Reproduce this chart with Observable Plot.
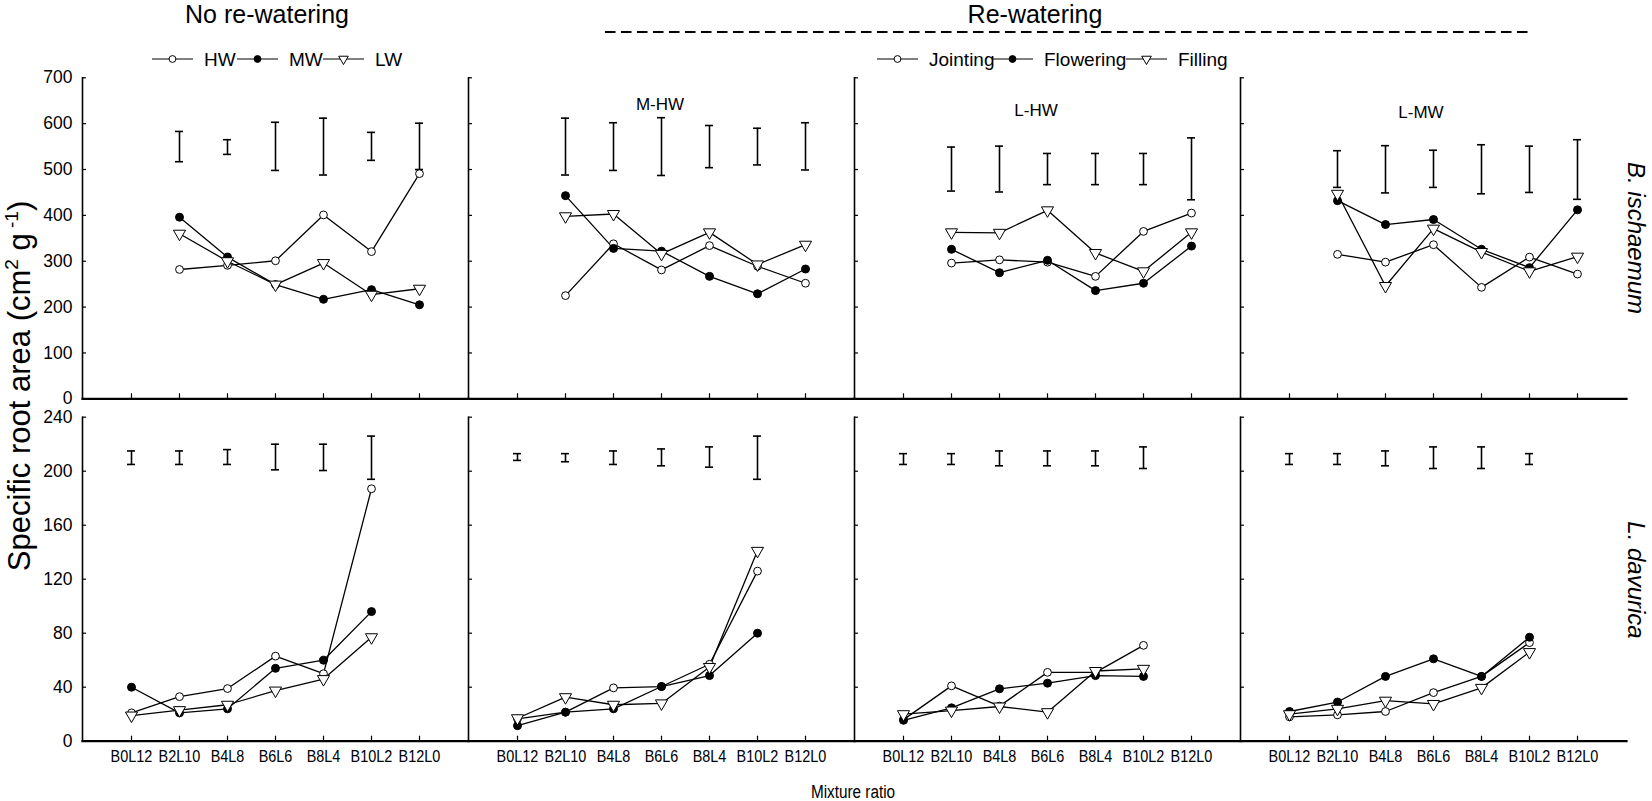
<!DOCTYPE html>
<html><head><meta charset="utf-8">
<script src="https://cdn.jsdelivr.net/npm/d3@7"></script>
<script src="https://cdn.jsdelivr.net/npm/@observablehq/plot@0.6"></script>
<style>
body{margin:0;background:#fff;}
#wrap{position:relative;width:1652px;height:801px;font-family:"Liberation Sans",Arial,sans-serif;overflow:hidden;background:#fff;}
#row1{position:absolute;left:0;top:60px;}
#row2{position:absolute;left:0;top:405px;}
#ann{position:absolute;left:0;top:0;pointer-events:none;}
</style></head><body>
<div id="wrap"><div id="row2"></div><div id="row1"></div><svg id="ann" width="1652" height="801"></svg></div>
<script>
// ---------- data ----------
const ratios = ["B0L12","B2L10","B4L8","B6L6","B8L4","B10L2","B12L0"];
const panels = ["No re-watering","M-HW","L-HW","L-MW"];
const legendNo = ["HW","MW","LW"];
const legendRe = ["Jointing","Flowering","Filling"];
const biRatios = ratios.slice(1);      // B. ischaemum present
const ldRatios = ratios.slice(0, 6);   // L. davurica present

// B. ischaemum (top row)
const biNoHW  = [282, 291, 301, 401, 321, 491];
const biNoMW  = [396, 309, 249, 217, 238, 205];
const biNoLW  = [360, 300, 249, 296, 227, 240];
const biMHW_J = [225, 338, 281, 334, 289, 252];
const biMHW_F = [443, 328, 322, 267, 229, 283];
const biMHW_Fi= [398, 403, 316, 363, 293, 336];
const biLHW_J = [296, 303, 298, 267, 365, 405];
const biLHW_F = [326, 275, 302, 236, 252, 333];
const biLHW_Fi= [363, 362, 411, 318, 278, 363];
const biLMW_J = [315, 298, 336, 243, 309, 272];
const biLMW_F = [432, 380, 391, 326, 286, 412];
const biLMW_Fi= [447, 246, 371, 320, 278, 310];
const biErrNoLo  = [517, 533, 498, 488, 520, 500];
const biErrNoHi  = [583, 565, 603, 612, 581, 601];
const biErrMHWLo = [488, 498, 487, 504, 510, 499];
const biErrMHWHi = [612, 602, 613, 596, 590, 602];
const biErrLHWLo = [453, 451, 467, 467, 467, 434];
const biErrLHWHi = [549, 551, 535, 535, 535, 569];
const biErrLMWLo = [461, 449, 461, 447, 450, 435];
const biErrLMWHi = [541, 552, 542, 554, 551, 565];

// L. davurica (bottom row)
const ldNoHW  = [21, 33, 39, 63, 50, 187];
const ldNoMW  = [40, 21, 24, 54, 60, 96];
const ldNoLW  = [19, 23, 27, 37.5, 46, 77];
const ldMHW_J = [16.5, 21.5, 39.5, 40.5, 57, 126];
const ldMHW_F = [11.5, 21.5, 24, 40.5, 48.6, 80];
const ldMHW_Fi= [17, 32.6, 27, 28, 55, 141];
const ldLHW_J = [16, 41, 26, 51, 51, 71];
const ldLHW_F = [15.5, 24.7, 38.8, 43, 48.6, 48];
const ldLHW_Fi= [20, 22.7, 25.7, 21.5, 52, 53.6];
const ldLMW_J = [18, 19.5, 22, 36, 48, 73];
const ldLMW_F = [22, 29, 48, 61, 48, 77];
const ldLMW_Fi= [20, 24, 30, 27.6, 39.5, 66];
const ldErrNoLo  = [205, 205, 205, 201, 200.5, 194];
const ldErrNoHi  = [215, 215, 216, 220, 220, 226];
const ldErrMHWLo = [208, 207, 205, 204, 203, 194];
const ldErrMHWHi = [213, 213, 215, 216.5, 218, 226];
const ldErrLHWLo = [205, 205, 204, 204, 204, 202];
const ldErrLHWHi = [213, 213, 215, 215, 215, 218];
const ldErrLMWLo = [205, 205, 204, 202, 202, 205];
const ldErrLMWHi = [213, 213, 215, 218, 218, 213];

const biTicks = [0,100,200,300,400,500,600,700];
const ldTicks = [0,40,80,120,160,200,240];

// ---------- build tables ----------
function rows(panel, rs, series) {
  return series.flatMap((arr, s) => arr.map((v, i) => ({panel, ratio: rs[i], value: v, s})));
}
function errRows(panel, rs, lo, hi) {
  return lo.map((l, i) => ({panel, ratio: rs[i], lo: l, hi: hi[i]}));
}
const biData = [
  ...rows(panels[0], biRatios, [biNoHW, biNoMW, biNoLW]),
  ...rows(panels[1], biRatios, [biMHW_J, biMHW_F, biMHW_Fi]),
  ...rows(panels[2], biRatios, [biLHW_J, biLHW_F, biLHW_Fi]),
  ...rows(panels[3], biRatios, [biLMW_J, biLMW_F, biLMW_Fi])
];
const biErr = [
  ...errRows(panels[0], biRatios, biErrNoLo, biErrNoHi),
  ...errRows(panels[1], biRatios, biErrMHWLo, biErrMHWHi),
  ...errRows(panels[2], biRatios, biErrLHWLo, biErrLHWHi),
  ...errRows(panels[3], biRatios, biErrLMWLo, biErrLMWHi)
];
const ldData = [
  ...rows(panels[0], ldRatios, [ldNoHW, ldNoMW, ldNoLW]),
  ...rows(panels[1], ldRatios, [ldMHW_J, ldMHW_F, ldMHW_Fi]),
  ...rows(panels[2], ldRatios, [ldLHW_J, ldLHW_F, ldLHW_Fi]),
  ...rows(panels[3], ldRatios, [ldLMW_J, ldLMW_F, ldLMW_Fi])
];
const ldErr = [
  ...errRows(panels[0], ldRatios, ldErrNoLo, ldErrNoHi),
  ...errRows(panels[1], ldRatios, ldErrMHWLo, ldErrMHWHi),
  ...errRows(panels[2], ldRatios, ldErrLHWLo, ldErrLHWHi),
  ...errRows(panels[3], ldRatios, ldErrLMWLo, ldErrLMWHi)
];

const sans = "'Liberation Sans',Arial,sans-serif";

function rowPlot({data, err, yMax, ticks, height, mt, mb, xLabels}) {
  const P = {fx: "panel", x: "ratio", y: "value"};
  return Plot.plot({
    width: 1652, height, marginLeft: 82, marginRight: 26, marginTop: mt, marginBottom: mb,
    style: {fontFamily: sans, fontSize: "17px", color: "black", background: "transparent", overflow: "visible"},
    fx: {domain: panels, padding: 0, axis: null},
    x: {type: "point", domain: ratios, padding: 1, axis: null},
    y: {domain: [0, yMax], axis: null},
    marks: [
      Plot.frame({anchor: "left", stroke: "black", strokeWidth: 1.6}),
      Plot.frame({anchor: "bottom", stroke: "black", strokeWidth: 2.2}),
      Plot.axisY(ticks, {tickSize: 0, tickPadding: 10, fontSize: 17.5, label: null}),
      Plot.axisY(ticks, {facetAnchor: null, tickSize: -4, tickFormat: () => "", strokeWidth: 1.2, label: null}),
      Plot.axisX({facetAnchor: null, tickSize: -5, tickFormat: () => "", strokeWidth: 1.2, label: null}),
      xLabels ? Plot.axisX({facetAnchor: null, tickSize: 0, tickPadding: 9, fontSize: 17, label: null}) : null,
      Plot.ruleX(err, {fx: "panel", x: "ratio", y1: "lo", y2: "hi", stroke: "black", strokeWidth: 1.6}),
      Plot.ruleY(err, {fx: "panel", x1: "ratio", x2: "ratio", y: "lo", insetLeft: -4, insetRight: -4, stroke: "black", strokeWidth: 1.6}),
      Plot.ruleY(err, {fx: "panel", x1: "ratio", x2: "ratio", y: "hi", insetLeft: -4, insetRight: -4, stroke: "black", strokeWidth: 1.6}),
      Plot.line(data, {...P, z: "s", stroke: "black", strokeWidth: 1.3}),
      Plot.dot(data.filter(d => d.s === 0), {...P, r: 3.9, fill: "white", stroke: "black", strokeWidth: 1}),
      Plot.dot(data.filter(d => d.s === 1), {...P, r: 4, fill: "black", stroke: "black", strokeWidth: 1}),
      Plot.dot(data.filter(d => d.s === 2), {...P, symbol: "triangle", rotate: 180, r: 4.5, fill: "white", stroke: "black", strokeWidth: 1})
    ]
  });
}

// condense a text element horizontally (narrow face like the original)
function condense(el, k) {
  const w = el.getComputedTextLength();
  if (w > 0) { el.setAttribute("textLength", (w * k).toFixed(1)); el.setAttribute("lengthAdjust", "spacingAndGlyphs"); }
}

const p1 = rowPlot({data: biData, err: biErr, yMax: 700, ticks: biTicks, height: 362, mt: 17.3, mb: 23.7, xLabels: false});
const p2 = rowPlot({data: ldData, err: ldErr, yMax: 240, ticks: ldTicks, height: 396, mt: 11.7, mb: 60.3, xLabels: true});
document.getElementById("row1").append(p1);
document.getElementById("row2").append(p2);
d3.select(p2).selectAll('g[aria-label="x-axis tick label"] text').each(function() { condense(this, 0.85); });

// ---------- annotations ----------
const ann = d3.select("#ann").style("font-family", sans);
ann.append("text").attr("x", 267).attr("y", 23).attr("text-anchor", "middle").attr("font-size", 25).text(panels[0]);
ann.append("text").attr("x", 1035).attr("y", 23).attr("text-anchor", "middle").attr("font-size", 25).text("Re-watering");
ann.append("line").attr("x1", 605).attr("x2", 1531).attr("y1", 32).attr("y2", 32)
  .attr("stroke", "black").attr("stroke-width", 2).attr("stroke-dasharray", "10.5,5.5");

function legendItem(x0, label, s) {
  const y = 59;
  const g = ann.append("g");
  g.append("line").attr("x1", x0).attr("x2", x0 + 41).attr("y1", y).attr("y2", y).attr("stroke", "black").attr("stroke-width", 1.2);
  const cx = x0 + 20.5;
  if (s === 2) {
    g.append("path").attr("d", d3.symbol(d3.symbolTriangle, 40)()).attr("transform", `translate(${cx},${y}) rotate(180)`)
      .attr("fill", "white").attr("stroke", "black");
  } else {
    g.append("circle").attr("cx", cx).attr("cy", y).attr("r", 3.4).attr("fill", s === 1 ? "black" : "white").attr("stroke", "black");
  }
  g.append("text").attr("x", x0 + 52).attr("y", y + 7).attr("font-size", 19).text(label);
}
legendItem(152, legendNo[0], 0);
legendItem(237, legendNo[1], 1);
legendItem(323, legendNo[2], 2);
legendItem(877, legendRe[0], 0);
legendItem(992, legendRe[1], 1);
legendItem(1126, legendRe[2], 2);

ann.append("text").attr("x", 660).attr("y", 110).attr("text-anchor", "middle").attr("font-size", 17).text(panels[1]);
ann.append("text").attr("x", 1036).attr("y", 116).attr("text-anchor", "middle").attr("font-size", 17).text(panels[2]);
ann.append("text").attr("x", 1421).attr("y", 118).attr("text-anchor", "middle").attr("font-size", 17).text(panels[3]);

ann.append("text").attr("transform", "translate(1628,238) rotate(90)").attr("text-anchor", "middle")
  .attr("font-size", 24).attr("font-style", "italic").text("B. ischaemum");
ann.append("text").attr("transform", "translate(1628,580) rotate(90)").attr("text-anchor", "middle")
  .attr("font-size", 24).attr("font-style", "italic").text("L. davurica");

const yt = ann.append("text").attr("transform", "translate(30,386) rotate(-90)").attr("text-anchor", "middle").attr("font-size", 31);
yt.append("tspan").text("Specific root area (cm");
yt.append("tspan").attr("font-size", 19).attr("dy", -12).text("2");
yt.append("tspan").attr("dy", 12).text(" g");
yt.append("tspan").attr("font-size", 19).attr("dy", -12).text(" -1");
yt.append("tspan").attr("dy", 12).text(")");

const mr = ann.append("text").attr("x", 853).attr("y", 798).attr("text-anchor", "middle").attr("font-size", 18).text("Mixture ratio");
condense(mr.node(), 0.85);
</script>
</body></html>
